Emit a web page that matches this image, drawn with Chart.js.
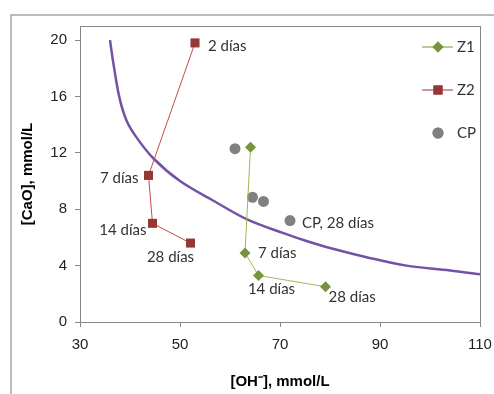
<!DOCTYPE html>
<html>
<head>
<meta charset="utf-8">
<script src="https://cdn.jsdelivr.net/npm/chart.js@4/dist/chart.umd.min.js"></script>
<style>
  html, body { margin: 0; padding: 0; background: #fff; }
  #wrap { width: 494px; height: 394px; }
</style>
</head>
<body>
<div id="wrap"><canvas id="chart" width="494" height="394"></canvas></div>
<script>
// datos
const z1X = [64.1, 63.0, 65.7, 79.1];
const z1Y = [12.4, 4.9, 3.3, 2.5];
const z1Labels = ['', '7 días', '14 días', '28 días'];

const z2X = [53.0, 43.7, 44.5, 52.1];
const z2Y = [19.8, 10.4, 7.0, 5.6];
const z2Labels = ['2 días', '7 días', '14 días', '28 días'];

const cpX = [61.0, 64.5, 66.7, 72.0];
const cpY = [12.3, 8.85, 8.55, 7.2];
const cpLabels = ['', '', '', 'CP, 28 días'];

const curveX = [36, 36.7, 37.9, 39.3, 41.3, 44.7, 50, 56.7, 63.3, 70.7, 75.3, 80, 87.3, 95.3, 104, 110];
const curveY = [20, 18.3, 15.9, 14.3, 13.1, 11.6, 10.0, 8.6, 7.3, 6.3, 5.75, 5.25, 4.6, 4.0, 3.66, 3.38];

const xTicks = [30, 50, 70, 90, 110];
const yTicks = [0, 4, 8, 12, 16, 20];

const toPts = (xs, ys) => xs.map((x, i) => ({ x: x, y: ys[i] }));

const GREEN = '#77933C', RED = '#953735', GREY = '#808080', PURPLE = '#7352A6';
const labelFont = '15px Lato, "Open Sans", sans-serif';
const axisFont = '"Liberation Sans", Arial, sans-serif';

// posición de las etiquetas respecto a cada punto
const labelPos = {
    0: [null, [13, 0, 'left'], [13, 14, 'center'], [3, 10, 'left']],
    1: [[13, 3, 'left'], [-10, 3, 'right'], [-6, 7, 'right'], [-20, 14, 'center']],
    2: [null, null, null, [12, 3, 'left']]
};
const labelText = { 0: z1Labels, 1: z2Labels, 2: cpLabels };

const framePlugin = {
    id: 'frame',
    beforeDraw(chart) {
        const ctx = chart.ctx;
        ctx.save();
        ctx.fillStyle = '#fff';
        ctx.fillRect(0, 0, chart.width, chart.height);
        ctx.strokeStyle = '#a6a6a6';
        ctx.lineWidth = 1.5;
        ctx.strokeRect(11, 15, chart.width + 20, chart.height + 20);
        ctx.restore();
    },
    afterDraw(chart) {
        const ctx = chart.ctx;
        const a = chart.chartArea;
        ctx.save();
        ctx.strokeStyle = '#868686';
        ctx.lineWidth = 1;
        ctx.strokeRect(a.left + 0.5, a.top + 0.5, a.right - a.left, a.bottom - a.top);

        // etiquetas de datos
        ctx.font = labelFont;
        ctx.fillStyle = '#333';
        ctx.textBaseline = 'middle';
        Object.keys(labelText).forEach(di => {
            const meta = chart.getDatasetMeta(+di);
            labelText[di].forEach((t, i) => {
                const p = labelPos[di][i];
                if (!t || !p) return;
                const el = meta.data[i];
                ctx.textAlign = p[2];
                ctx.fillText(t, el.x + p[0], el.y + p[1]);
            });
        });

        // leyenda dentro del área
        const items = [
            { text: 'Z1', y: 47, color: GREEN, style: 'rectRot', r: 5.5, line: true },
            { text: 'Z2', y: 90, color: RED, style: 'rect', r: 6.4, line: true },
            { text: 'CP', y: 133, color: GREY, style: 'circle', r: 5.5, line: false }
        ];
        items.forEach(it => {
            if (it.line) {
                ctx.strokeStyle = it.color;
                ctx.lineWidth = 1;
                ctx.beginPath();
                ctx.moveTo(422, it.y);
                ctx.lineTo(453, it.y);
                ctx.stroke();
            }
            ctx.fillStyle = it.color;
            ctx.strokeStyle = it.color;
            Chart.helpers.drawPoint(ctx, { pointStyle: it.style, radius: it.r, borderWidth: 0 }, 438, it.y);
            ctx.fill();
            ctx.fillStyle = '#333';
            ctx.textAlign = 'left';
            ctx.fillText(it.text, 457, it.y);
        });
        ctx.restore();
    }
};

new Chart(document.getElementById('chart'), {
    type: 'scatter',
    data: {
        datasets: [
            {
                label: 'Z1',
                data: toPts(z1X, z1Y),
                showLine: true,
                borderColor: '#9BBB59',
                borderWidth: 1,
                backgroundColor: GREEN,
                pointStyle: 'rectRot',
                pointRadius: 5.5,
                pointBorderWidth: 0,
                pointBackgroundColor: GREEN
            },
            {
                label: 'Z2',
                data: toPts(z2X, z2Y),
                showLine: true,
                borderColor: '#C0504D',
                borderWidth: 1,
                backgroundColor: RED,
                pointStyle: 'rect',
                pointRadius: 6.4,
                pointBorderWidth: 0,
                pointBackgroundColor: RED
            },
            {
                label: 'CP',
                data: toPts(cpX, cpY),
                showLine: false,
                backgroundColor: GREY,
                pointStyle: 'circle',
                pointRadius: 5.5,
                pointBorderWidth: 0,
                pointBackgroundColor: GREY
            },
            {
                label: 'curva',
                data: toPts(curveX, curveY),
                showLine: true,
                borderColor: PURPLE,
                borderWidth: 2.5,
                pointRadius: 0,
                tension: 0.35
            }
        ]
    },
    options: {
        responsive: false,
        animation: false,
        layout: { padding: { left: 0, right: 14, top: 26, bottom: 0 } },
        plugins: {
            legend: { display: false },
            tooltip: { enabled: false }
        },
        scales: {
            x: {
                type: 'linear',
                min: 30,
                max: 110,
                afterBuildTicks: s => { s.ticks = xTicks.map(v => ({ value: v })); },
                afterFit: s => { s.height = 72; s.paddingLeft = 0; s.paddingRight = 0; },
                grid: { display: true, drawOnChartArea: false, drawTicks: true, tickLength: 5, color: '#868686' },
                border: { color: '#868686' },
                ticks: { padding: 9, color: '#222', font: { family: axisFont, size: 15 } },
                title: {
                    display: true,
                    text: '[OH⁻], mmol/L',
                    color: '#000',
                    padding: { top: 0, bottom: 3 },
                    font: { family: axisFont, size: 15, weight: 'bold' }
                }
            },
            y: {
                min: 0,
                max: 21,
                afterBuildTicks: s => { s.ticks = yTicks.map(v => ({ value: v })); },
                afterFit: s => { s.width = 80; },
                grid: { display: true, drawOnChartArea: false, drawTicks: true, tickLength: 5, color: '#868686' },
                border: { color: '#868686' },
                ticks: { padding: 8, color: '#222', font: { family: axisFont, size: 15 } },
                title: {
                    display: true,
                    text: '[CaO], mmol/L',
                    color: '#000',
                    padding: { top: 19, bottom: 0 },
                    font: { family: axisFont, size: 15, weight: 'bold' }
                }
            }
        }
    },
    plugins: [framePlugin]
});
</script>
</body>
</html>
